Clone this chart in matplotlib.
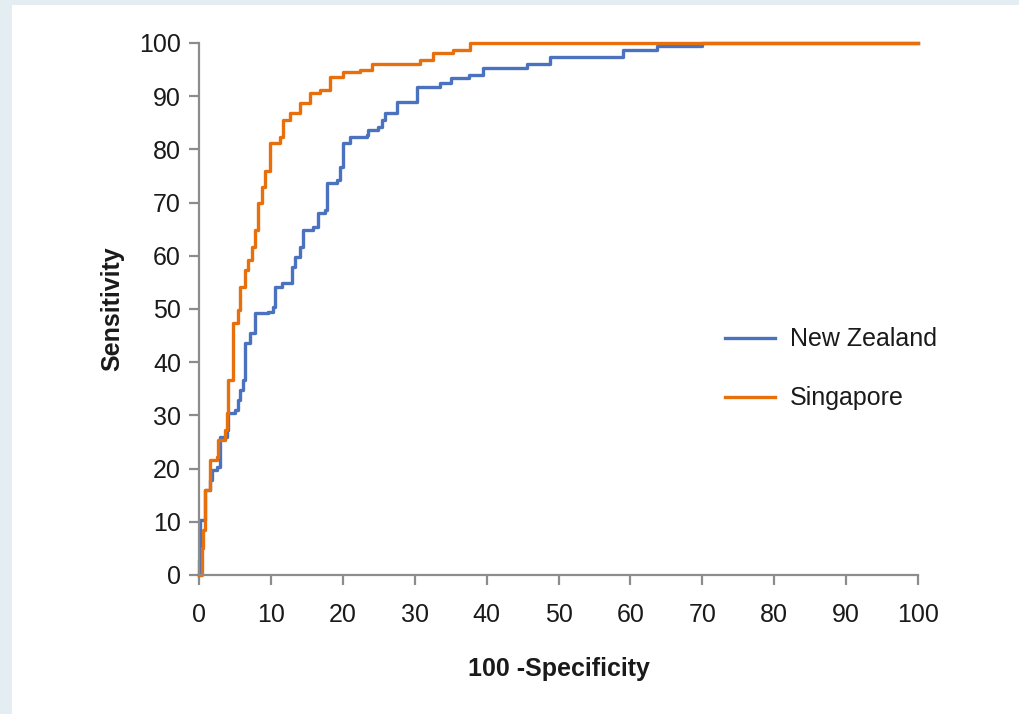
import matplotlib
matplotlib.use("Agg")
import matplotlib.pyplot as plt
from matplotlib.patches import Rectangle

# ROC curve corner points (100 - specificity, sensitivity)
nz_fpr = [0, 0, 0.1, 0.8, 1.5, 1.8, 2.5, 2.9, 3.9, 4.0, 5.0, 5.4, 5.7, 6.1, 6.4,
          7.1, 7.8, 9.6, 10.3, 10.6, 11.5, 12.9, 13.4, 14.0, 14.5, 15.9, 16.6,
          17.5, 17.8, 19.2, 19.6, 20.0, 21.0, 23.4, 23.5, 24.9, 25.4, 25.8, 27.5,
          30.3, 33.5, 35.0, 37.5, 39.5, 45.6, 48.8, 59.0, 63.7, 70.0, 100]
nz_tpr = [0, 2.8, 10.3, 16.0, 17.9, 19.7, 20.3, 26.0, 27.3, 30.4, 31.0, 32.9,
          34.8, 36.7, 43.6, 45.5, 49.2, 49.4, 50.4, 54.1, 54.9, 57.9, 59.8, 61.7,
          64.8, 65.4, 68.0, 68.6, 73.7, 74.2, 76.7, 81.2, 82.3, 82.7, 83.6, 84.2,
          85.5, 86.8, 89.0, 91.7, 92.4, 93.4, 94.0, 95.3, 96.1, 97.3, 98.7, 99.4,
          100, 100]

sg_fpr = [0, 0.4, 0.6, 0.8, 1.5, 2.5, 2.6, 3.6, 3.9, 4.0, 4.7, 4.7, 5.4, 5.7,
          6.4, 6.8, 7.4, 7.8, 8.2, 8.7, 9.2, 9.9, 11.3, 11.7, 12.7, 14.0, 15.4,
          16.8, 18.2, 20.0, 22.4, 24.0, 30.7, 32.5, 35.3, 37.7, 100]
sg_tpr = [0, 5.0, 8.5, 16.0, 21.6, 22.2, 25.4, 27.3, 30.4, 36.7, 38.0, 47.4,
          49.8, 54.1, 57.3, 59.2, 61.7, 64.8, 70.0, 73.0, 76.0, 81.2, 82.3, 85.5,
          86.8, 88.7, 90.6, 91.2, 93.6, 94.5, 95.0, 96.0, 96.8, 98.1, 98.7, 100,
          100]

ticks = list(range(0, 101, 10))
blue = "#4a72bf"
orange = "#e8700c"
font = ["Liberation Sans", "DejaVu Sans"]
plt.rcParams["font.family"] = font

fig = plt.figure(figsize=(10.19, 7.14), dpi=100, facecolor="#e4edf1")
fig.patches.append(Rectangle((12 / 1019, 0), 1, 1 - 5 / 714, transform=fig.transFigure,
                             facecolor="white", edgecolor="none", zorder=-5))
ax = fig.add_axes([199 / 1019, 1 - 575 / 714, 719 / 1019, 532 / 714])
ax.set_facecolor("none")

ax.plot(nz_fpr, nz_tpr, drawstyle="steps-post", color=blue, lw=2.4,
        label="New Zealand", clip_on=False)
ax.plot(sg_fpr, sg_tpr, drawstyle="steps-post", color=orange, lw=2.4,
        label="Singapore", clip_on=False)

ax.set_xlim(0, 100)
ax.set_ylim(0, 100)
ax.set_xticks(ticks)
ax.set_yticks(ticks)
for s in ["top", "right"]:
    ax.spines[s].set_visible(False)
for s in ["left", "bottom"]:
    ax.spines[s].set_color("#8c8c8c")
    ax.spines[s].set_linewidth(1.6)
ax.tick_params(direction="out", length=7, width=1.6, color="#8c8c8c",
               labelsize=18, labelcolor="#1a1a1a")
ax.tick_params(axis="y", pad=6)
ax.tick_params(axis="x", pad=13)

ax.set_ylabel("Sensitivity", fontsize=18, fontweight="bold", color="#1a1a1a")
ax.yaxis.set_label_coords(-0.104, 0.5)
ax.set_xlabel("100 -Specificity", fontsize=18, fontweight="bold", color="#1a1a1a")
ax.xaxis.set_label_coords(0.5, -0.155)

leg = ax.legend(loc="upper left", bbox_to_anchor=(712 / 1019, 1 - 315 / 714),
                bbox_transform=fig.transFigure, frameon=False, borderpad=0,
                handlelength=2.0, handletextpad=0.6, labelspacing=1.4,
                prop={"size": 18})
for t in leg.get_texts():
    t.set_color("#1a1a1a")

fig.savefig("out.png", dpi=100, facecolor=fig.get_facecolor())
